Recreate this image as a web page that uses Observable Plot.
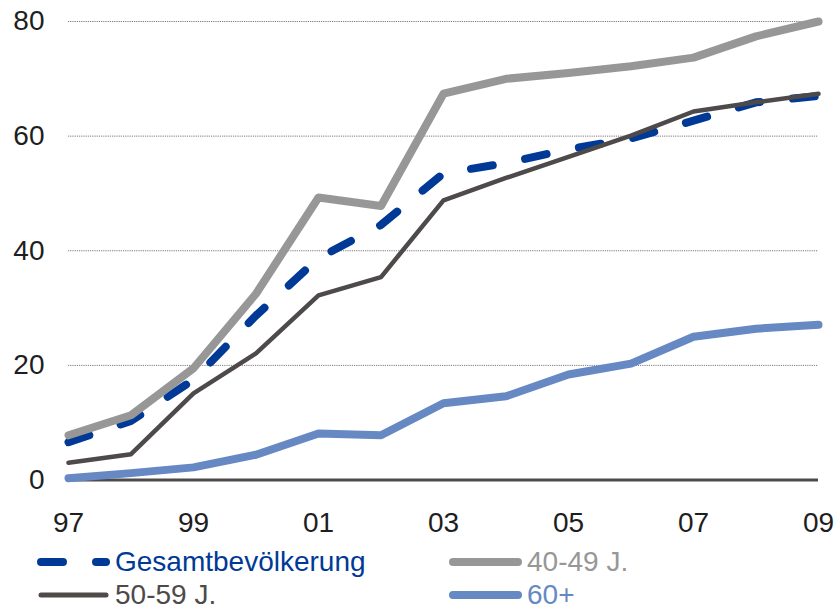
<!DOCTYPE html>
<html>
<head>
<meta charset="utf-8">
<script src="https://cdn.jsdelivr.net/npm/d3@7"></script>
<script src="https://cdn.jsdelivr.net/npm/@observablehq/plot@0.6"></script>
<style>
  body { margin: 0; background: #fff; font-family: "Liberation Sans", Arial, sans-serif; overflow: hidden; }
  #chart svg { display: block; }
  #legend { position: relative; width: 836px; height: 67px; }
  .item { position: absolute; height: 24px; }
  .item svg { position: absolute; left: 0; top: 0; }
  .item span { position: absolute; top: 0; line-height: 24px; font-size: 28px; white-space: nowrap; }
</style>
</head>
<body>
<div id="chart"></div>
<div id="legend"></div>
<script>
// ---- data ----
const years = [1997, 1998, 1999, 2000, 2001, 2002, 2003, 2004, 2005, 2006, 2007, 2008, 2009];
const gesamt = [6.6, 10.3, 17.5, 28.7, 38.7, 44.5, 53.5, 55.3, 57.7, 59.6, 62.7, 65.9, 67.0];
const age4049 = [7.8, 11.3, 19.5, 32.5, 49.3, 47.8, 67.4, 70.0, 71.0, 72.2, 73.7, 77.4, 80.0];
const age5059 = [3.0, 4.5, 15.1, 22.1, 32.2, 35.4, 48.8, 52.7, 56.4, 60.1, 64.3, 65.9, 67.4];
const age60 = [0.3, 1.2, 2.2, 4.4, 8.1, 7.8, 13.4, 14.6, 18.4, 20.3, 25.0, 26.4, 27.1];
const seriesNames = ["Gesamtbevölkerung", "40-49 J.", "50-59 J.", "60+"];
const xTicks = [1997, 1999, 2001, 2003, 2005, 2007, 2009];
const xTickLabels = ["97", "99", "01", "03", "05", "07", "09"];
const yTicks = [0, 20, 40, 60, 80];
const gridValues = [20, 40, 60, 80];

// ---- styles ----
const colors = ["#003a96", "#979797", "#4d4a49", "#6688c3"];
const widths = [8, 8, 4.5, 8];
const dashes = ["22,33", null, null, null];
const allSeries = [gesamt, age4049, age5059, age60];

const rows = (vals) => years.map((y, i) => ({year: y, value: vals[i]}));

const chart = Plot.plot({
  width: 836,
  height: 545,
  marginLeft: 68,
  marginRight: 18,
  marginTop: 21,
  marginBottom: 65.5,
  x: {domain: [1997, 2009], axis: null, label: null},
  y: {domain: [0, 80], axis: null, label: null},
  style: {fontFamily: "'Liberation Sans', Arial, sans-serif", fontSize: "28px", color: "#1e1e1e", background: "white"},
  marks: [
    Plot.ruleY(gridValues, {stroke: "#7a7a7a", strokeWidth: 1, strokeDasharray: "1.2,1"}),
    Plot.ruleY([0], {stroke: "#4d4a49", strokeWidth: 3}),
    Plot.axisX({ticks: xTicks, tickSize: 0, tickPadding: 32, label: null, fontSize: 28,
      tickFormat: (d) => xTickLabels[xTicks.indexOf(d)]}),
    Plot.axisY({ticks: yTicks, tickSize: 0, tickPadding: 24, label: null, fontSize: 28}),
    ...allSeries.map((vals, k) => Plot.line(rows(vals), {
      x: "year", y: "value",
      stroke: colors[k], strokeWidth: widths[k],
      strokeDasharray: dashes[k] || undefined,
      strokeLinecap: "round", strokeLinejoin: "round"
    }))
  ]
});
document.getElementById("chart").appendChild(chart);

// ---- legend ----
const legend = document.getElementById("legend");
const legendPos = [[0, 5], [412, 5], [0, 38], [412, 38]];
seriesNames.forEach((name, k) => {
  const div = document.createElement("div");
  div.className = "item";
  div.style.left = (legendPos[k][0]) + "px";
  div.style.top = (legendPos[k][1]) + "px";
  const x0 = 41, x1 = 106;
  const dash = dashes[k] ? `stroke-dasharray="${dashes[k]}"` : "";
  div.innerHTML = `<svg width="112" height="24"><line x1="${x0}" x2="${x1}" y1="12" y2="12" stroke="${colors[k]}" stroke-width="${k === 2 ? 5 : 8}" stroke-linecap="round" ${dash}/></svg><span style="left:115px;color:${colors[k]}">${name}</span>`;
  legend.appendChild(div);
});
</script>
</body>
</html>
